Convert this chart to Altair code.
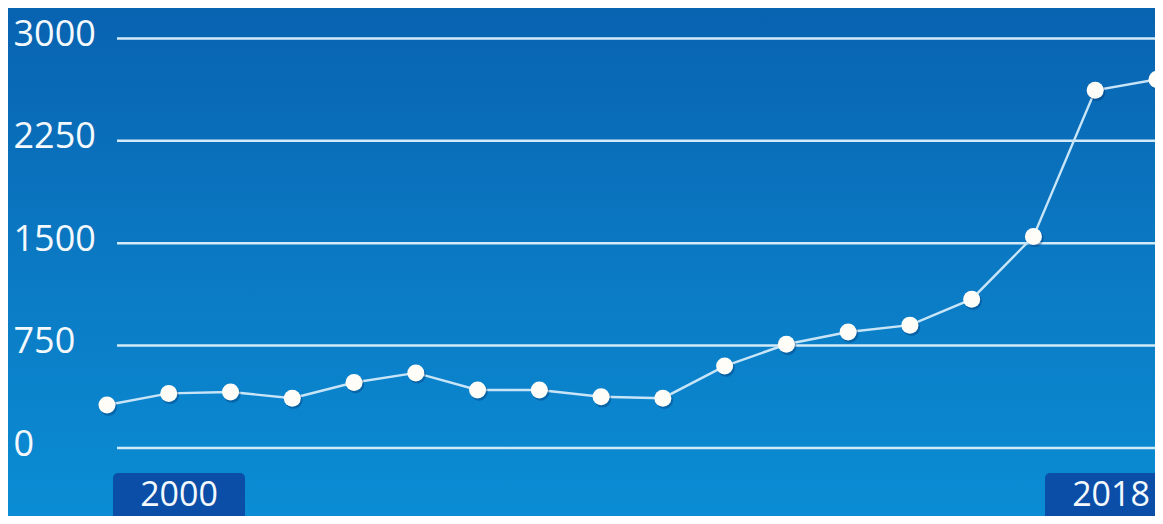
import altair as alt
import pandas as pd

# ---- data ----
years = [2000, 2001, 2002, 2003, 2004, 2005, 2006, 2007, 2008,
         2009, 2010, 2011, 2012, 2013, 2014, 2015, 2016, 2017]
values = [315, 400, 410, 365, 480, 550, 425, 425, 375,
          365, 600, 760, 850, 900, 1090, 1550, 2620, 2700]
y_ticks = [0, 750, 1500, 2250, 3000]
x_labels = ["2000", "2018"]

df = pd.DataFrame({"year": years, "value": values})
grid_df = pd.DataFrame({"value": y_ticks})
lab_df = pd.DataFrame({"label": x_labels})
bg_df = pd.DataFrame({"a": [0]})

W, H = 1038, 508
FONT = "Open Sans"

xscale = alt.Scale(domain=[2000.162, 2016.968], nice=False, zero=False)
yscale = alt.Scale(domain=[-498, 3223], nice=False, zero=False)
yaxis = alt.Axis(values=y_ticks, format="d", grid=False, domain=False, ticks=False,
                 tickSize=0, labelAlign="left", labelPadding=104,
                 labelFontSize=36, labelFont=FONT, labelColor="#f4f9fd",
                 labelOffset=-4, labelBaseline="middle", labelFlush=False,
                 labelBound=False, labelOverlap=False, title=None, zindex=1)

gradient = alt.LinearGradient(
    gradient="linear",
    stops=[alt.GradientStop(color="#0863b1", offset=0),
           alt.GradientStop(color="#0b79c3", offset=0.5),
           alt.GradientStop(color="#0a8dd4", offset=1)],
    x1=0, x2=0, y1=0, y2=1,
)

bg = alt.Chart(bg_df).mark_rect(color=gradient).encode(
    x=alt.value(-109), x2=alt.value(W), y=alt.value(0), y2=alt.value(H)
)

grid = alt.Chart(grid_df).mark_rule(color="#d3eaf8", strokeWidth=2.5).encode(
    y=alt.Y("value:Q", scale=yscale, axis=yaxis)
)

base = alt.Chart(df).encode(
    x=alt.X("year:Q", scale=xscale, axis=None),
    y=alt.Y("value:Q", scale=yscale, axis=yaxis),
)

line = base.mark_line(color="#c8e5f8", strokeWidth=2.4)
shadow = base.mark_circle(size=300, color="#002f66", opacity=0.35, xOffset=1.5, yOffset=2)
points = base.mark_circle(size=290, color="#fffdf7", opacity=1)

lab_x = alt.X("label:N", axis=None,
              scale=alt.Scale(type="point", domain=x_labels, range=[62, 994], padding=0))
boxes = alt.Chart(lab_df).mark_bar(color="#0a4ea7", width=132, cornerRadius=5).encode(
    x=lab_x, y=alt.value(465), y2=alt.value(530)
)
texts = alt.Chart(lab_df).mark_text(
    font=FONT, fontSize=34, color="#f4f9fd", baseline="alphabetic", align="center"
).encode(x=lab_x, y=alt.value(498), text="label:N")

chart = alt.layer(bg, grid, line, shadow, points, boxes, texts).resolve_scale(
    x="independent"
).properties(
    width=W, height=H,
    autosize=alt.AutoSizeParams(type="none"),
    padding={"left": 109, "top": 0, "right": 0, "bottom": 0},
    background="#0b78c2",
).configure_view(stroke=None)

chart.save("out.html", embed_options={"renderer": "svg", "actions": False})
